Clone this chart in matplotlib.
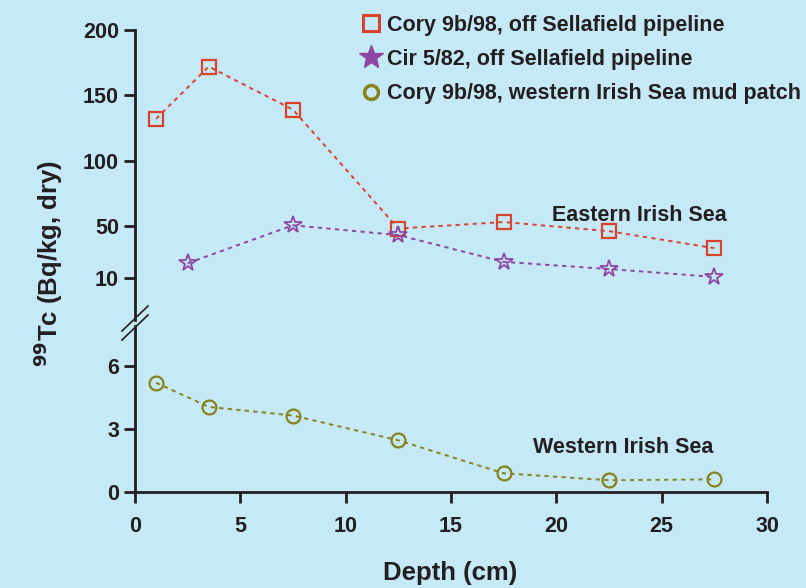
import numpy as np
import matplotlib.pyplot as plt
from matplotlib.lines import Line2D

plt.rcParams['font.family'] = ['Liberation Sans', 'DejaVu Sans']
plt.rcParams['font.weight'] = 'bold'

# depth (cm) and 99Tc (Bq/kg, dry)
depth_cory = [1, 3.5, 7.5, 12.5, 17.5, 22.5, 27.5]
tc_cory_east = [132, 172, 139, 48, 53, 46, 33]
depth_cir = [2.5, 7.5, 12.5, 17.5, 22.5, 27.5]
tc_cir_east = [21.5, 50.5, 43, 22.5, 17, 11]
tc_cory_west = [5.2, 4.05, 3.64, 2.46, 0.89, 0.56, 0.6]

labels = ['Cory 9b/98, off Sellafield pipeline',
          'Cir 5/82, off Sellafield pipeline',
          'Cory 9b/98, western Irish Sea mud patch']

bg = '#c6e9f8'
ink = '#231f20'
red = '#d9432e'
purple = '#8e47a1'
olive = '#86821c'

W, H = 806, 588
fig = plt.figure(figsize=(W / 100, H / 100), dpi=100, facecolor=bg)

def fx(px): return px / W
def fy(py): return 1 - py / H

left, right = 135, 767
ax_top = fig.add_axes([fx(left), fy(320), fx(right) - fx(left), fy(30) - fy(320)])
ax_bot = fig.add_axes([fx(left), fy(492), fx(right) - fx(left), fy(326) - fy(492)])

for ax in (ax_top, ax_bot):
    ax.set_facecolor(bg)
    ax.patch.set_alpha(0)
    for s in ('top', 'right'):
        ax.spines[s].set_visible(False)
    ax.spines['left'].set_linewidth(2)
    ax.spines['left'].set_color(ink)
    ax.set_xlim(0, 30)
    ax.tick_params(axis='both', width=2, length=8, color=ink, labelsize=15.5,
                   labelcolor=ink)

ls = (0, (2.2, 2.2))
ax_top.plot(depth_cory, tc_cory_east, color=red, ls=ls, lw=1.4, marker='s',
            ms=10, mfc='none', mec=red, mew=1.6)
ax_top.plot(depth_cir, tc_cir_east, color=purple, ls=ls, lw=1.4, marker='*',
            ms=13, mfc='none', mec=purple, mew=1.3)
ax_top.set_ylim(-22, 200)
ax_top.set_yticks([10, 50, 100, 150, 200])
ax_top.spines['bottom'].set_visible(False)
ax_top.tick_params(axis='x', bottom=False, labelbottom=False)
ax_top.text(19.8, 58, 'Eastern Irish Sea', fontsize=15.5, fontweight='bold',
            color=ink, ha='left', va='center')

ax_bot.plot(depth_cory, tc_cory_west, color=olive, ls=ls, lw=1.4, marker='o',
            ms=10, mfc='none', mec=olive, mew=1.6)
ax_bot.set_ylim(0, 7.9)
ax_bot.set_yticks([0, 3, 6])
ax_bot.set_xticks([0, 5, 10, 15, 20, 25, 30])
ax_bot.spines['bottom'].set_linewidth(2)
ax_bot.spines['bottom'].set_color(ink)
ax_bot.tick_params(axis='x', pad=9)
ax_bot.text(18.9, 2.1, 'Western Irish Sea', fontsize=15.5, fontweight='bold',
            color=ink, ha='left', va='center')

# axis break marks
for y0 in (331, 340):
    fig.add_artist(Line2D([fx(122), fx(148)], [fy(y0), fy(y0 - 25)],
                          color=ink, lw=1.2))

fig.text(fx(450), fy(573), 'Depth (cm)', fontsize=18.5, fontweight='bold',
         color=ink, ha='center', va='center')
fig.text(fx(48), fy(263), r'$^{\mathbf{99}}$Tc (Bq/kg, dry)', fontsize=18.5,
         fontweight='bold', color=ink, rotation=90, ha='center', va='center')

handles = [
    Line2D([], [], ls='none', marker='s', ms=11, mfc='none', mec=red, mew=2.2),
    Line2D([], [], ls='none', marker='*', ms=18, mfc=purple, mec=purple),
    Line2D([], [], ls='none', marker='o', ms=10, mfc='none', mec=olive, mew=2.5),
]
fig.legend(handles, labels, loc='upper left', bbox_to_anchor=(fx(349), fy(6)),
           frameon=False, labelspacing=0.62, handletextpad=0.15,
           handlelength=1.2, borderaxespad=0, labelcolor=ink,
           prop={'weight': 'bold', 'size': 15.5})

fig.savefig('out.png', dpi=100, facecolor=bg)
